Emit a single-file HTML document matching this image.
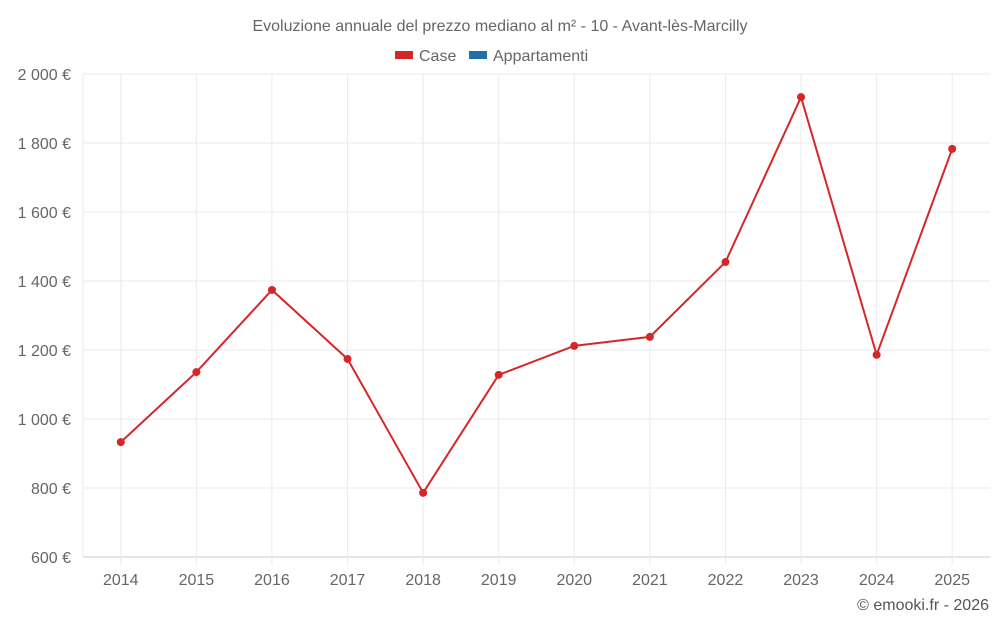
<!DOCTYPE html>
<html><head><meta charset="utf-8">
<style>
body{margin:0;background:#fff;font-family:"Liberation Sans",sans-serif;}
svg text{font-family:"Liberation Sans",sans-serif;}
</style></head>
<body>
<svg id="chart" width="1000" height="625" xmlns="http://www.w3.org/2000/svg">
<text x="500" y="31" text-anchor="middle" font-size="16" fill="#666">Evoluzione annuale del prezzo mediano al m² - 10 - Avant-lès-Marcilly</text>
<g>
<rect x="395" y="51" width="18" height="8" fill="#d62728"/>
<text x="419" y="61" font-size="16" fill="#666">Case</text>
<rect x="469" y="51" width="18" height="8" fill="#1f6fa8"/>
<text x="493" y="61" font-size="16" fill="#666">Appartamenti</text>
</g>
<g id="grid"></g><g id="axes"></g><g id="series"></g>
<text x="989" y="610" text-anchor="end" font-size="16" fill="#555">© emooki.fr - 2026</text>
</svg>
<script>
const categories=["2014","2015","2016","2017","2018","2019","2020","2021","2022","2023","2024","2025"];
const caseValues=[933,1136,1374,1174,786,1128,1212,1238,1455,1933,1186,1783];
const yTicks=[600,800,1000,1200,1400,1600,1800,2000];
const yTickLabels=["600 €","800 €","1 000 €","1 200 €","1 400 €","1 600 €","1 800 €","2 000 €"];
const L=83,R=990,T=74,B=557,yMin=600,yMax=2000;
const bw=(R-L)/categories.length;
const x=i=>L+bw*(i+0.5);
const y=v=>B-(v-yMin)/(yMax-yMin)*(B-T);
const NS="http://www.w3.org/2000/svg";
function mk(t,a,p){const e=document.createElementNS(NS,t);for(const k in a)e.setAttribute(k,a[k]);p.appendChild(e);return e;}
const grid=document.getElementById('grid'),axes=document.getElementById('axes'),ser=document.getElementById('series');
const la=mk('line',{x1:L,x2:L,y1:T,y2:B,stroke:'#ebebeb'},grid);


yTicks.forEach((v,i)=>{
 const l=mk('line',{x1:L,x2:R,y1:y(v),y2:y(v),stroke:i==0?'#ccc':'#ebebeb','stroke-width':1},grid);
 
 
 const t=mk('text',{x:L-12,y:y(v)+6,'text-anchor':'end','font-size':16,fill:'#666'},axes);
 t.textContent=yTickLabels[i];
 
 
});
categories.forEach((c,i)=>{
 const l=mk('line',{x1:x(i),x2:x(i),y1:T,y2:B+8,stroke:'#ebebeb'},grid);
 
 
 const t=mk('text',{x:x(i),y:585,'text-anchor':'middle','font-size':16,fill:'#666'},axes);
 t.textContent=c;
 
 
});
const pl=mk('polyline',{points:caseValues.map((v,i)=>x(i)+','+y(v)).join(' '),fill:'none',stroke:'#d62728','stroke-width':2},ser);


caseValues.forEach((v,i)=>{
 const c=mk('circle',{cx:x(i),cy:y(v),r:4,fill:'#d62728'},ser);
 
 
});
</script>
</body></html>
